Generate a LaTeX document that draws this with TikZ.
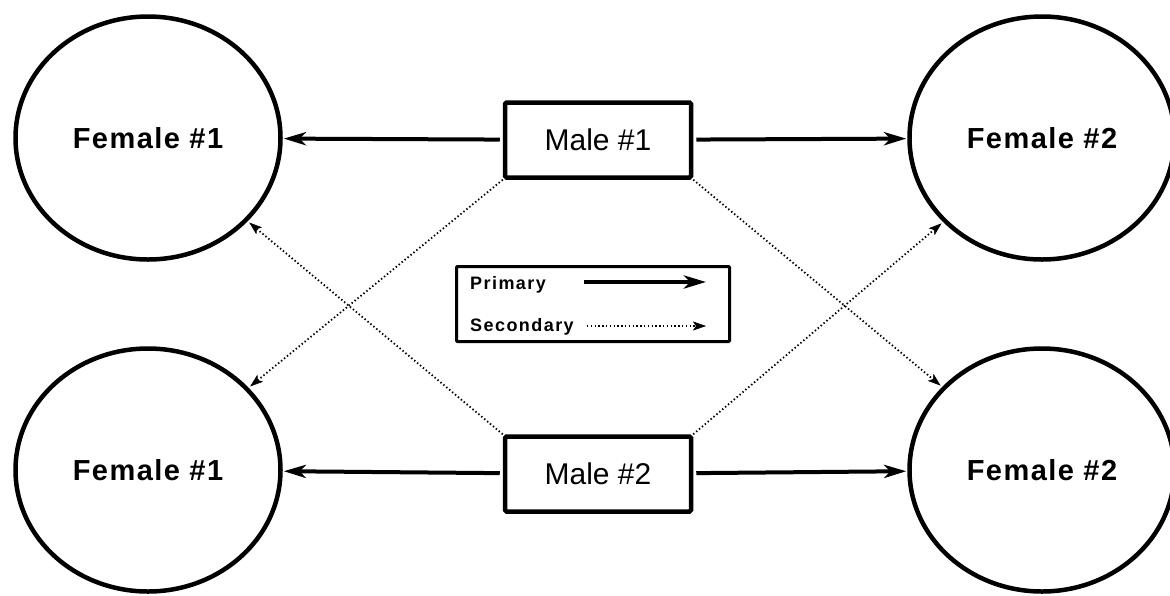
\documentclass[tikz,border=0pt]{standalone}
\usepackage{fontspec}
\setmainfont{Liberation Sans}
\usetikzlibrary{arrows.meta,shapes.geometric}
\tikzset{
  female/.style={draw, line width=4.5pt, ellipse, minimum width=265pt, minimum height=243pt,
    font=\fontsize{29}{34}\selectfont\bfseries\addfontfeature{LetterSpace=5}},
  male/.style={draw, line width=4.5pt, rounded corners=1.5pt, minimum width=186pt, minimum height=75pt,
    font=\fontsize{30}{36}\selectfont},
  primary/.style={line width=4pt, -{Stealth[length=22pt,width=13pt,inset=6pt]}},
  secondary/.style={line width=1.8pt, dash pattern=on 1.4pt off 2.4pt,
    -{Stealth[length=13pt,width=9pt,inset=3pt,line width=0.5pt]}},
  legtext/.style={anchor=base west, inner sep=0pt, font=\fontsize{18}{21}\selectfont\bfseries\addfontfeature{LetterSpace=8}}
}
\begin{document}
\begin{tikzpicture}[x=1pt,y=-1pt]
\useasboundingbox (0,0) rectangle (1170,595);
\node[female] (f1top) at (148,138) {Female \#1};
\node[female] (f2top) at (1042,138) {Female \#2};
\node[female] (f1bot) at (148,470) {Female \#1};
\node[female] (f2bot) at (1042,470) {Female \#2};
\node[male] (m1) at (598,140) {Male \#1};
\node[male] (m2) at (598,474) {Male \#2};
% primary mates
\draw[primary, shorten <=3pt, shorten >=1pt] (m1) -- (f1top);
\draw[primary, shorten <=3pt, shorten >=1pt] (m1) -- (f2top);
\draw[primary, shorten <=3pt, shorten >=1pt] (m2) -- (f1bot);
\draw[primary, shorten <=3pt, shorten >=1pt] (m2) -- (f2bot);
% secondary mates
\draw[secondary, shorten >=2pt] (m1.south west) -- (f1bot);
\draw[secondary, shorten >=2pt] (m1.south east) -- (f2bot);
\draw[secondary, shorten >=2pt] (m2.north west) -- (f1top);
\draw[secondary, shorten >=2pt] (m2.north east) -- (f2top);
% legend
\node[draw, line width=3pt, rounded corners=1pt, minimum width=273pt, minimum height=75pt] (legend) at (593,304) {};
\node[legtext] (prim) at (470,289) {Primary};
\node[legtext] (sec) at (470,331) {Secondary};
\coordinate (pa) at (584,282);
\coordinate (pb) at (706,282);
\coordinate (sa) at (587,326);
\coordinate (sb) at (706,326);
\draw[primary] (pa) -- (pb);
\draw[secondary] (sa) -- (sb);
\end{tikzpicture}
\end{document}
